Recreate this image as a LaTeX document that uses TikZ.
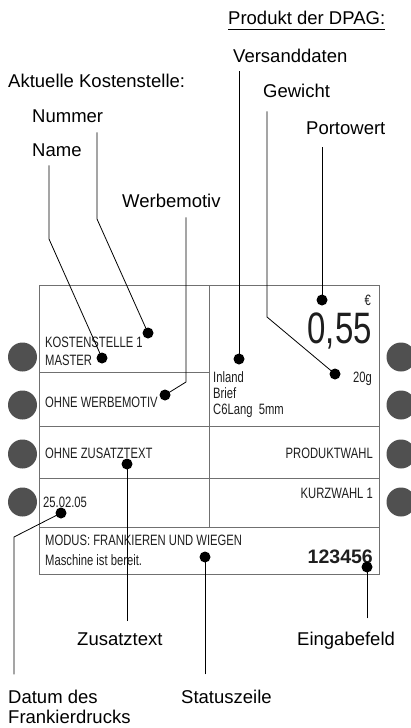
\documentclass[tikz,border=0pt]{standalone}
\usepackage{fontspec}
\setmainfont{Liberation Sans}
\newfontfamily\lcdfont[FakeStretch=0.75]{Liberation Sans}
\usetikzlibrary{calc}
\definecolor{framegray}{HTML}{707070}
\definecolor{keygray}{HTML}{505050}
\definecolor{lcdink}{HTML}{1E1E1E}
\tikzset{
  callout/.style={font=\fontsize{18.5}{20}\selectfont,inner sep=0,
                  anchor=base west,align=left},
  lcd/.style={font=\lcdfont\fontsize{15}{16}\selectfont,text=lcdink,
              inner sep=0,anchor=base west},
  lcdright/.style={lcd,anchor=base east},
  pin/.style={circle,fill=black,inner sep=0,minimum size=11pt},
  softkey/.style={circle,fill=keygray,inner sep=0,minimum size=29pt},
  leader/.style={line width=0.8pt},
  panel/.style={draw=framegray,line width=1pt},
}

\begin{document}
\begin{tikzpicture}[x=1pt,y=-1pt]
  \useasboundingbox (0,0) rectangle (411,728);

  % soft keys left and right of the display
  \foreach \ky [count=\i] in {357,405,454,502}{
    \node[softkey] (kl\i) at (22.5,\ky) {};
    \node[softkey] (kr\i) at (401,\ky) {};
  }

  % display frame
  \draw[panel] (39,285) rectangle (379,574);
  \draw[panel] (209,285) -- (209,527);
  \draw[panel] (39,372) -- (209,372);
  \draw[panel] (39,426) -- (379,426);
  \draw[panel] (39,478) -- (379,478);
  \draw[panel] (39,527) -- (379,527);

  % display contents
  \node[lcd] (kst) at (45,347) {KOSTENSTELLE 1};
  \node[lcd] (master) at (45,365) {MASTER};
  \node[lcd] (werbe) at (45,407) {OHNE WERBEMOTIV};
  \node[lcd] (zusatz) at (45,458) {OHNE ZUSATZTEXT};
  \node[lcd] (datum) at (43,507) {25.02.05};
  \node[lcd] (modus) at (45,545) {MODUS: FRANKIEREN UND WIEGEN};
  \node[lcd] (status) at (45,565) {Maschine ist bereit.};
  \node[lcd] (inland) at (213,382) {Inland};
  \node[lcd] (brief) at (213,398) {Brief};
  \node[lcd] (format) at (213,414) {C6Lang\ \ 5mm};
  \node[lcdright] (gewicht) at (372,382) {20g};
  \node[lcdright] (euro) at (371,305) {€};
  \node[lcdright,font=\lcdfont\fontsize{44}{46}\selectfont] (porto) at (372,343) {0,55};
  \node[lcdright] (produkt) at (373,458) {PRODUKTWAHL};
  \node[lcdright] (kurzwahl) at (373,498) {KURZWAHL 1};
  \node[anchor=base east,inner sep=0,text=lcdink,
        font=\bfseries\fontsize{19.5}{20}\selectfont] (eingabe) at (373,563) {123456};

  % pins
  \node[pin] (pName) at (102,358) {};
  \node[pin] (pNummer) at (148,333) {};
  \node[pin] (pWerbe) at (165,395) {};
  \node[pin] (pVersand) at (239,359) {};
  \node[pin] (pGewicht) at (335,374) {};
  \node[pin] (pPorto) at (322,300) {};
  \node[pin] (pZusatz) at (127,464) {};
  \node[pin] (pDatum) at (61,513) {};
  \node[pin] (pStatus) at (205,557) {};
  \node[pin] (pEingabe) at (367,567) {};

  % callout texts
  \node[callout] (lDPAG) at (228,24) {Produkt der DPAG:};
  \draw[line width=1.4pt] ([yshift=-5.5pt]lDPAG.base west) -- ([yshift=-5.5pt]lDPAG.base east);
  \node[callout] (lVersand) at (233,62) {Versanddaten};
  \node[callout] (lKst) at (8,87) {Aktuelle Kostenstelle:};
  \node[callout] (lGewicht) at (263,97) {Gewicht};
  \node[callout] (lNummer) at (32,122) {Nummer};
  \node[callout] (lPorto) at (306,134) {Portowert};
  \node[callout] (lName) at (32,156) {Name};
  \node[callout] (lWerbe) at (122,207) {Werbemotiv};
  \node[callout] (lZusatz) at (77,645) {Zusatztext};
  \node[callout] (lEingabe) at (297,645) {Eingabefeld};
  \node[callout] (lDatum) at (8,723) {Datum des\\Frankierdrucks};
  \node[callout] (lStatus) at (181,703) {Statuszeile};

  % leader lines
  \coordinate (bName) at (49,239);
  \coordinate (bNummer) at (97,219);
  \coordinate (bWerbe) at (186,382);
  \coordinate (bGewicht) at (267,317);
  \coordinate (bDatum) at (14,537);
  \draw[leader,shorten <=9pt] (lName.south -| bName) -- (bName) -- (pName.center);
  \draw[leader,shorten <=10pt] (lNummer.south -| bNummer) -- (bNummer) -- (pNummer.center);
  \draw[leader,shorten <=10pt] (lWerbe.south -| bWerbe) -- (bWerbe) -- (pWerbe.center);
  \draw[leader,shorten <=9pt] (lVersand.south -| pVersand) -- (pVersand.center);
  \draw[leader,shorten <=14pt] (lGewicht.south -| bGewicht) -- (bGewicht) -- (pGewicht.center);
  \draw[leader,shorten <=13pt] (lPorto.south -| pPorto) -- (pPorto.center);
  \draw[leader,shorten <=11pt] (lZusatz.north -| pZusatz) -- (pZusatz.center);
  \draw[leader,shorten <=13pt] (lEingabe.north -| pEingabe) -- (pEingabe.center);
  \draw[leader,shorten <=15pt] (lStatus.north -| pStatus) -- (pStatus.center);
  \draw[leader,shorten <=15pt] (lDatum.north -| bDatum) -- (bDatum) -- (pDatum.center);
\end{tikzpicture}
\end{document}
